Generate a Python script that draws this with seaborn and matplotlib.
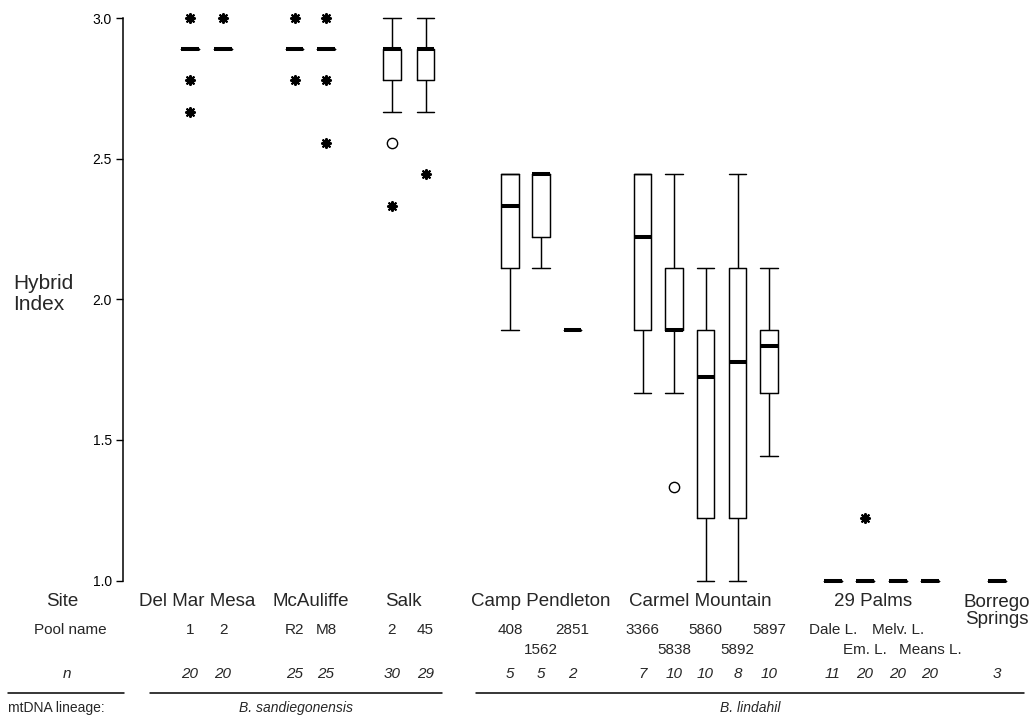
import numpy as np
import pandas as pd
import seaborn as sns
import matplotlib.pyplot as plt
from matplotlib.lines import Line2D

# ---- data ----
pool_ids = ["DM1", "DM2", "R2", "M8", "S2", "S45", "408", "1562", "2851",
            "3366", "5838", "5860", "5892", "5897",
            "Dale", "Em", "Melv", "Means", "Borrego"]
pool_labels = ["1", "2", "R2", "M8", "2", "45", "408", "1562", "2851",
               "3366", "5838", "5860", "5892", "5897",
               "Dale L.", "Em. L.", "Melv. L.", "Means L.", ""]
pool_row = [0, 0, 0, 0, 0, 0, 0, 1, 0, 0, 1, 0, 1, 0, 0, 1, 0, 1, 0]
n_values = [20, 20, 25, 25, 30, 29, 5, 5, 2, 7, 10, 10, 8, 10, 11, 20, 20, 20, 3]

# five number summaries: whisker low, q1, median, q3, whisker high
lo  = [2.889, 2.889, 2.889, 2.889, 2.667, 2.667, 1.889, 2.111, 1.889,
       1.667, 1.667, 1.000, 1.000, 1.444, 1.0, 1.0, 1.0, 1.0, 1.0]
q1  = [2.889, 2.889, 2.889, 2.889, 2.778, 2.778, 2.111, 2.222, 1.889,
       1.889, 1.889, 1.222, 1.222, 1.667, 1.0, 1.0, 1.0, 1.0, 1.0]
med = [2.889, 2.889, 2.889, 2.889, 2.889, 2.889, 2.333, 2.444, 1.889,
       2.222, 1.889, 1.722, 1.778, 1.833, 1.0, 1.0, 1.0, 1.0, 1.0]
q3  = [2.889, 2.889, 2.889, 2.889, 2.889, 2.889, 2.444, 2.444, 1.889,
       2.444, 2.111, 1.889, 2.111, 1.889, 1.0, 1.0, 1.0, 1.0, 1.0]
hi  = [2.889, 2.889, 2.889, 2.889, 3.000, 3.000, 2.444, 2.444, 1.889,
       2.444, 2.444, 2.111, 2.444, 2.111, 1.0, 1.0, 1.0, 1.0, 1.0]

# points beyond the whiskers
extreme_pool = ["DM1", "DM1", "DM1", "DM2", "R2", "R2", "M8", "M8", "M8", "S2", "S45", "Em"]
extreme_val = [3.0, 2.778, 2.667, 3.0, 3.0, 2.778, 3.0, 2.778, 2.556, 2.333, 2.444, 1.222]
outlier_pool = ["S2", "5838"]
outlier_val = [2.556, 1.333]

sites = ["Del Mar Mesa", "McAuliffe", "Salk", "Camp Pendleton",
         "Carmel Mountain", "29 Palms", "Borrego\nSprings"]
lineages = ["B. sandiegonensis", "B. lindahil"]

# ---- layout (figure pixels) ----
W, H = 1032, 715
pool_x = [190, 223, 294.5, 326, 392, 425.5, 510, 541, 572.5,
          642.5, 674, 705.5, 737.5, 769, 833, 865, 898, 930, 997]
site_x = [197, 311, 403, 541, 700, 873, 997]
lineage_span = [(150, 442), (476, 1024)]
xpos = dict(zip(pool_ids, pool_x))

box_df = pd.DataFrame({
    "pool": np.repeat(pool_ids, 5),
    "x": np.repeat(pool_x, 5),
    "hi": np.column_stack([lo, q1, med, q3, hi]).ravel(),
})
ext_df = pd.DataFrame({"x": [xpos[p] for p in extreme_pool], "hi": extreme_val})
out_df = pd.DataFrame({"x": [xpos[p] for p in outlier_pool], "hi": outlier_val})

sns.set_style("ticks")
plt.rcParams["font.family"] = ["Liberation Sans", "DejaVu Sans"]

fig = plt.figure(figsize=(W / 100, H / 100), dpi=100)
ax = fig.add_axes([123 / W, 1 - 580.5 / H, 1 - 123 / W, (580.5 - 18) / H])

spacing = np.diff(sorted(pool_x)).min()
box_w = 17.5
sns.boxplot(data=box_df, x="x", y="hi", native_scale=True, whis=(0, 100),
            width=box_w / spacing, fill=False, color="black", linewidth=1.05,
            showfliers=False, capwidths=box_w,
            medianprops=dict(linewidth=2.9, color="black", solid_capstyle="butt"),
            ax=ax)
sns.scatterplot(data=ext_df, x="x", y="hi", marker=(8, 2, 0), s=42,
                color="black", linewidth=1.5, ax=ax)
sns.scatterplot(data=out_df, x="x", y="hi", marker="o", s=55,
                facecolor="white", edgecolor="black", linewidth=1.0, ax=ax)

for art in ax.lines + ax.patches + ax.collections:
    art.set_clip_on(False)

ax.set_xlim(123, W)
ax.set_ylim(1.0, 3.0)
ax.set_yticks([1.0, 1.5, 2.0, 2.5, 3.0])
ax.set_yticklabels(["1.0", "1.5", "2.0", "2.5", "3.0"])
ax.tick_params(axis="y", length=5, width=1, pad=3, labelsize=10, colors="black")
ax.set_xticks([])
ax.set_xlabel("")
ax.set_ylabel("")
for s in ["top", "right", "bottom"]:
    ax.spines[s].set_visible(False)
ax.spines["left"].set_linewidth(1.1)
ax.spines["left"].set_color("black")

fig.text(13 / W, 1 - 294 / H, "Hybrid\nIndex", fontsize=15, ha="left",
         va="center", linespacing=1.1)


def ftext(x, y, s, **kw):
    fig.text(x / W, 1 - y / H, s, ha="center", va="center", **kw)


# row headers
ftext(62, 602, "Site", fontsize=13.5)
ftext(70, 630, "Pool name", fontsize=11)
ftext(67, 674, "n", fontsize=11, style="italic")
ftext(56, 708, "mtDNA lineage:", fontsize=10)

for sx, name in zip(site_x, sites):
    if "\n" in name:
        ftext(sx, 611, name, fontsize=13.5, linespacing=0.95)
    else:
        ftext(sx, 602, name, fontsize=13.5)

for px, lab, row, n in zip(pool_x, pool_labels, pool_row, n_values):
    ftext(px, 630 + 19.5 * row, lab, fontsize=11)
    ftext(px, 674, str(n), fontsize=11, style="italic")

fig.add_artist(Line2D([8 / W, 124 / W], [1 - 693 / H] * 2, color="black", lw=1.1))
for (a, b), name in zip(lineage_span, lineages):
    fig.add_artist(Line2D([a / W, b / W], [1 - 693 / H] * 2, color="black", lw=1.1))
    ftext((a + b) / 2, 708, name, fontsize=10, style="italic")

fig.savefig("out.png", dpi=100)
